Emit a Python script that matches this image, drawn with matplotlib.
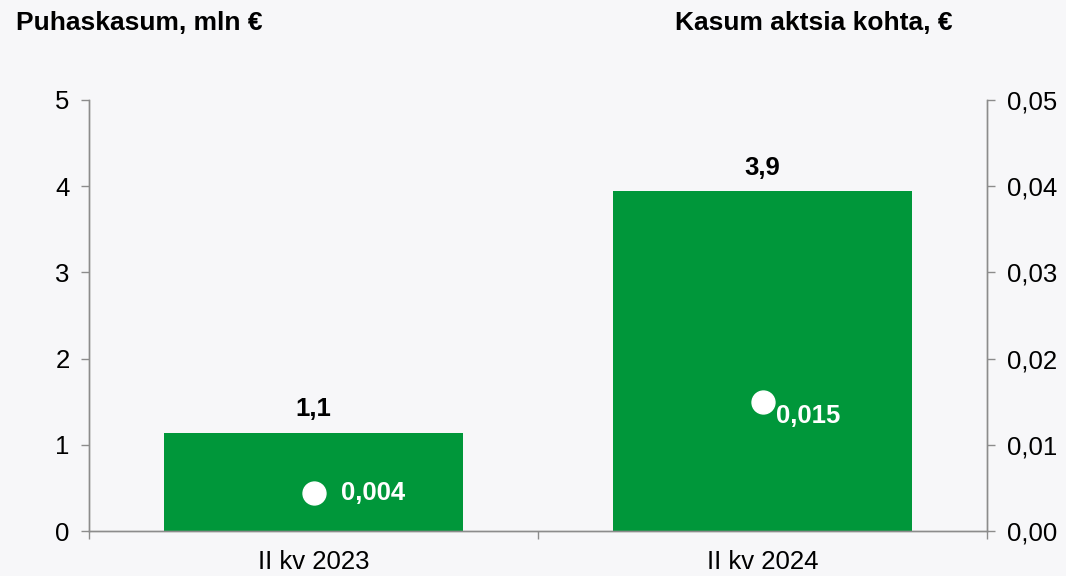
import matplotlib.pyplot as plt
from matplotlib.ticker import FixedLocator, FuncFormatter

plt.rcParams['font.family'] = ['Liberation Sans', 'DejaVu Sans']

# quarterly data
quarters = ["II kv 2023", "II kv 2024"]
net_profit = [1.14, 3.94]          # mln €
net_profit_labels = ["1,1", "3,9"]
eps = [0.0044, 0.015]              # € per share
eps_labels = ["0,004", "0,015"]

bg = "#f7f7f9"
green = "#00973a"
grey = "#8c8c8c"

fig = plt.figure(figsize=(10.66, 5.76), dpi=100, facecolor=bg)
ax = fig.add_axes([0.0835, 0.0781, 0.8425, 0.7483], facecolor=bg)
ax2 = ax.twinx()

x = list(range(len(quarters)))
ax.bar(x, net_profit, width=0.665, color=green, zorder=2)
for i, (v, lab) in enumerate(zip(net_profit, net_profit_labels)):
    ax.annotate(lab, (i, v), xytext=(0, 17), textcoords="offset points",
                ha="center", va="center", fontsize=18.5, fontweight="bold")

ax2.plot(x, eps, linestyle="none", marker="o", markersize=16.5,
         markerfacecolor="white", markeredgecolor="white", zorder=3)
offsets = [(20, 0), (10, -10)]
for i, (v, lab) in enumerate(zip(eps, eps_labels)):
    ax2.annotate(lab, (i, v), xytext=offsets[i], textcoords="offset points",
                 ha="left", va="center", fontsize=18.5, fontweight="bold",
                 color="white")

ax.set_xlim(-0.5, 1.5)
ax.set_ylim(0, 5)
ax2.set_ylim(0, 0.05)

ax.set_yticks([0, 1, 2, 3, 4, 5])
ax2.set_yticks([0, 0.01, 0.02, 0.03, 0.04, 0.05])
ax2.yaxis.set_major_formatter(FuncFormatter(lambda v, p: f"{v:.2f}".replace(".", ",")))

# category boundaries get the tick marks, names sit in between
ax.xaxis.set_major_locator(FixedLocator([-0.5, 0.5, 1.5]))
ax.xaxis.set_major_formatter(FuncFormatter(lambda v, p: ""))
ax.xaxis.set_minor_locator(FixedLocator(x))
ax.set_xticklabels(quarters, minor=True)
ax.tick_params(axis="x", which="minor", length=0, pad=14, labelsize=18.5)
ax.tick_params(axis="x", which="major", length=6, width=1, color=grey, direction="out")

ax.tick_params(axis="y", length=6, width=1, color=grey, pad=8, labelsize=18.5)
ax2.tick_params(axis="y", length=6, width=1, color=grey, pad=8, labelsize=18.5)

for a in (ax, ax2):
    a.spines["top"].set_visible(False)
    for s in ("left", "right", "bottom"):
        a.spines[s].set_color(grey)
        a.spines[s].set_linewidth(1)

fig.text(0.015, 0.96, "Puhaskasum, mln €", fontsize=19, fontweight="bold", va="center")
fig.text(0.633, 0.96, "Kasum aktsia kohta, €", fontsize=19, fontweight="bold", va="center")

fig.savefig("out.png", dpi=100, facecolor=bg)
